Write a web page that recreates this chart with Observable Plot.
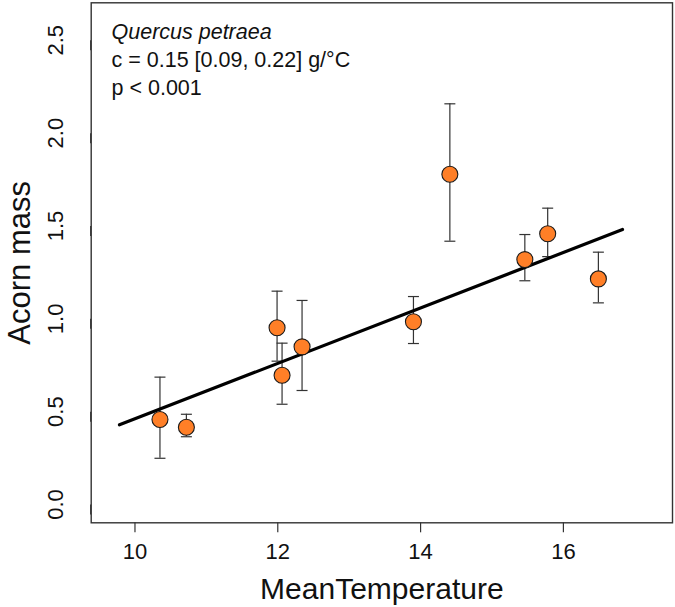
<!DOCTYPE html>
<html>
<head>
<meta charset="utf-8">
<script src="https://cdn.jsdelivr.net/npm/d3@7"></script>
<script src="https://cdn.jsdelivr.net/npm/@observablehq/plot@0.6"></script>
<style>
  html, body { margin: 0; padding: 0; background: #fff; }
</style>
</head>
<body>
<div id="chart"></div>
<script>
// Data
const temperature = [10.35, 10.72, 11.99, 12.06, 12.34, 13.90, 14.41, 15.46, 15.78, 16.49];
const acornMass   = [0.458, 0.416, 0.952, 0.696, 0.849, 0.984, 1.779, 1.319, 1.458, 1.215];
const massLower   = [0.249, 0.365, 0.772, 0.540, 0.614, 0.867, 1.418, 1.205, 1.335, 1.086];
const massUpper   = [0.686, 0.486, 1.149, 0.869, 1.099, 1.120, 2.158, 1.454, 1.596, 1.359];

const fitX = [9.783, 16.828];
const fitY = [0.429, 1.481];

const xTicks = [10, 12, 14, 16];
const yTicks = [0.0, 0.5, 1.0, 1.5, 2.0, 2.5];

const annotationLines = ["Quercus petraea", "c = 0.15 [0.09, 0.22] g/°C", "p < 0.001"];
const xLabel = "MeanTemperature";
const yLabel = "Acorn mass";

const points = temperature.map((t, i) => ({t, m: acornMass[i], lo: massLower[i], hi: massUpper[i]}));
const fit = fitX.map((x, i) => ({x, y: fitY[i]}));

const capSymbol = {
  draw(context) {
    context.moveTo(-5.5, 0);
    context.lineTo(5.5, 0);
  }
};

const font = "'Liberation Sans', Arial, Helvetica, sans-serif";

const chart = Plot.plot({
  width: 675,
  height: 607,
  marginLeft: 90.7,
  marginRight: 3,
  marginTop: 2.3,
  marginBottom: 84.7,
  style: {fontFamily: font, background: "#fff", color: "#222"},
  x: {domain: [9.387, 17.528]},
  y: {domain: [-0.0985, 2.702]},
  marks: [
    Plot.axisX({ticks: xTicks, tickSize: 10, tickPadding: 11, fontSize: 22, label: null, stroke: "#333", strokeWidth: 1.2, fill: "#111"}),
    Plot.axisY({ticks: yTicks, tickSize: 10, tickPadding: 25.4, fontSize: 22, label: null, tickFormat: d3.format(".1f"),
      rotate: -90, textAnchor: "middle", lineAnchor: "middle", stroke: "#333", strokeWidth: 1.2, fill: "#111"}),
    Plot.ruleX(points, {x: "t", y1: "lo", y2: "hi", stroke: "#333", strokeWidth: 1.2}),
    Plot.dot(points, {x: "t", y: "lo", symbol: capSymbol, stroke: "#333", strokeWidth: 1.2, fill: "none"}),
    Plot.dot(points, {x: "t", y: "hi", symbol: capSymbol, stroke: "#333", strokeWidth: 1.2, fill: "none"}),
    Plot.line(fit, {x: "x", y: "y", stroke: "#000", strokeWidth: 3.2}),
    Plot.dot(points, {x: "t", y: "m", r: 8, fill: "#FF7F27", stroke: "#1a1a1a", strokeWidth: 1.1}),
    Plot.frame({stroke: "#333", strokeWidth: 1.4}),
    Plot.text([annotationLines[0]], {frameAnchor: "top-left", dx: 20.3, dy: 29.1, textAnchor: "start", lineAnchor: "middle", fontSize: 21.5, fontStyle: "italic", fill: "#111"}),
    Plot.text([annotationLines[1]], {frameAnchor: "top-left", dx: 20.3, dy: 57.1, textAnchor: "start", lineAnchor: "middle", fontSize: 21.5, fill: "#111"}),
    Plot.text([annotationLines[2]], {frameAnchor: "top-left", dx: 20.3, dy: 85.4, textAnchor: "start", lineAnchor: "middle", fontSize: 21.5, fill: "#111"}),
    Plot.text([xLabel], {frameAnchor: "bottom", dy: 66.1, lineAnchor: "middle", fontSize: 30, fill: "#111"}),
    Plot.text([yLabel], {frameAnchor: "left", dx: -71.6, rotate: -90, textAnchor: "middle", lineAnchor: "middle", fontSize: 31, fill: "#111"})
  ]
});

document.getElementById("chart").appendChild(chart);
</script>
</body>
</html>
